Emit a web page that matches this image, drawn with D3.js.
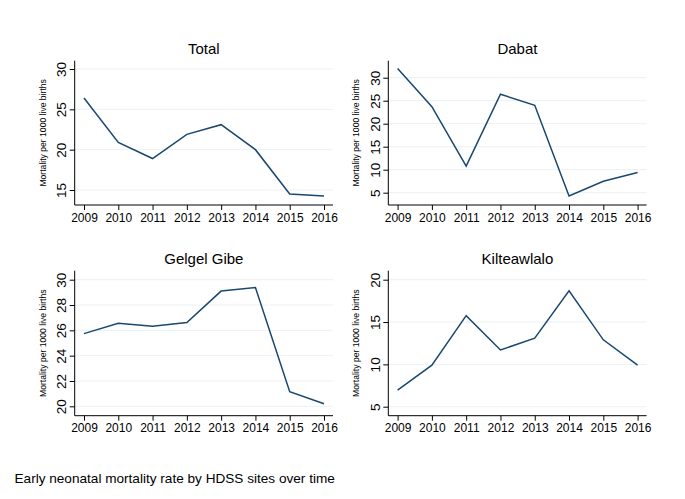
<!DOCTYPE html>
<html><head><meta charset="utf-8">
<script src="https://cdn.jsdelivr.net/npm/d3@7"></script>
<style>body{margin:0;background:#fff}svg{display:block}text{font-family:"Liberation Sans",Arial,sans-serif;fill:#000;font-weight:normal}</style>
</head><body><svg id="c" width="685" height="499"></svg>
<script>
const years = [2009, 2010, 2011, 2012, 2013, 2014, 2015, 2016];
const totalVals = [26.4, 20.9, 18.9, 21.9, 23.1, 20.0, 14.5, 14.25];
const dabatVals = [32.0, 23.7, 10.8, 26.4, 24.0, 4.3, 7.5, 9.4];
const gelgelVals = [25.74, 26.55, 26.33, 26.62, 29.1, 29.38, 21.15, 20.2];
const kilteVals = [6.97, 9.9, 15.75, 11.7, 13.1, 18.7, 12.9, 9.9];
const totalTicks = [15, 20, 25, 30];
const dabatTicks = [5, 10, 15, 20, 25, 30];
const gelgelTicks = [20, 22, 24, 26, 28, 30];
const kilteTicks = [5, 10, 15, 20];
const panelTitles = ["Total", "Dabat", "Gelgel Gibe", "Kilteawlalo"];
const yTitle = "Mortality per 1000 live births";
const caption = "Early neonatal mortality rate by HDSS sites over time";

const panels = [
  {title: panelTitles[0], vals: totalVals, ticks: totalTicks, x0: 74.7, top: 60.7, bottom: 205, yTop: 69, yBot: 190},
  {title: panelTitles[1], vals: dabatVals, ticks: dabatTicks, x0: 388.3, top: 60.7, bottom: 205, yTop: 77.7, yBot: 192.7},
  {title: panelTitles[2], vals: gelgelVals, ticks: gelgelTicks, x0: 74.7, top: 270.7, bottom: 415.7, yTop: 279.7, yBot: 406.3},
  {title: panelTitles[3], vals: kilteVals, ticks: kilteTicks, x0: 388.3, top: 270.7, bottom: 415.7, yTop: 279.7, yBot: 406.7}
];
const svg = d3.select("#c");
const lineColor = "#1a476f";
const gridColor = "#eaf2f3";
const plotW = 258.3;

panels.forEach(p => {
  const g = svg.append("g");
  const x = d3.scaleLinear().domain([years[0], years[years.length-1]]).range([p.x0 + 9.3, p.x0 + 249.3]);
  const y = d3.scaleLinear().domain([d3.min(p.ticks), d3.max(p.ticks)]).range([p.yBot, p.yTop]);
  const x1 = p.x0 + plotW;
  g.selectAll(".grid").data(p.ticks).join("line")
    .attr("x1", p.x0).attr("x2", x1)
    .attr("y1", d => y(d)).attr("y2", d => y(d))
    .attr("stroke", gridColor).attr("stroke-width", 1);
  const ya = g.append("g").attr("transform", `translate(${p.x0},0)`)
    .call(d3.axisLeft(y).tickValues(p.ticks).tickSize(5).tickPadding(3));
  ya.select(".domain").remove();
  ya.selectAll(".tick line").attr("stroke", "#000");
  ya.selectAll(".tick text")
    .attr("font-size", 13.5)
    .attr("text-anchor", "middle")
    .attr("transform", "translate(-8.5,0) rotate(-90)")
    .attr("x", 0).attr("y", 0).attr("dy", "0");
  g.append("line").attr("x1", p.x0).attr("x2", p.x0).attr("y1", p.top).attr("y2", p.bottom)
    .attr("stroke", "#000").attr("stroke-width", 1);
  const xa = g.append("g").attr("transform", `translate(0,${p.bottom})`)
    .call(d3.axisBottom(x).tickValues(years).tickFormat(d3.format("d")).tickSize(5).tickPadding(3));
  xa.select(".domain").remove();
  xa.selectAll(".tick line").attr("stroke", "#000");
  xa.selectAll(".tick text").attr("font-size", 12);
  g.append("line").attr("x1", p.x0).attr("x2", x1).attr("y1", p.bottom).attr("y2", p.bottom)
    .attr("stroke", "#000").attr("stroke-width", 1);
  g.append("text").attr("transform", `translate(${p.x0 - 29},${(p.top + p.bottom)/2}) rotate(-90)`)
    .attr("text-anchor", "middle").attr("font-size", 8.6).text(yTitle);
  g.append("text").attr("x", p.x0 + plotW/2).attr("y", p.top - 7)
    .attr("text-anchor", "middle").attr("font-size", 15).text(p.title);
  g.append("path").datum(p.vals)
    .attr("d", d3.line().x((d,i) => x(years[i])).y(d => y(d)))
    .attr("fill", "none").attr("stroke", lineColor).attr("stroke-width", 1.5);
});
svg.append("text").attr("x", 14.5).attr("y", 483).attr("font-size", 13.6).text(caption);
</script></body></html>
